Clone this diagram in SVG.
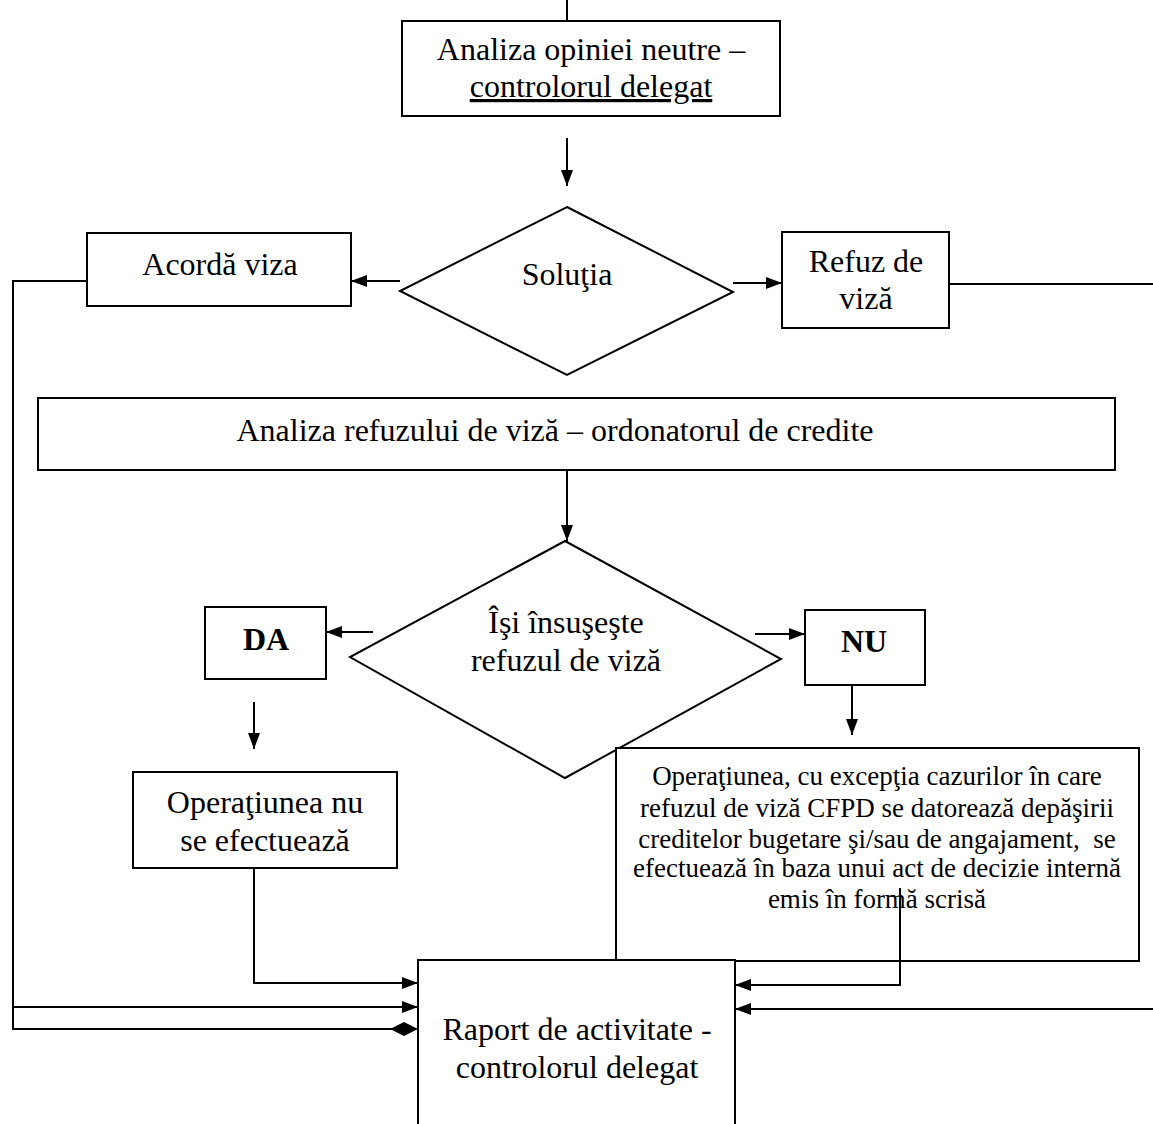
<svg xmlns="http://www.w3.org/2000/svg" width="1153" height="1124" viewBox="0 0 1153 1124">
<style>
  .box{fill:#fff;stroke:#000;stroke-width:2}
  .t{font-family:"Liberation Serif","Times New Roman",serif;font-size:32px;fill:#000;text-anchor:middle}
  .s{font-size:27px}
  .b{font-weight:bold}
  .c{fill:none;stroke:#000;stroke-width:2}
</style>
<defs>
  <marker id="ah" viewBox="0 0 16 12" refX="16" refY="6" markerWidth="16" markerHeight="12" markerUnits="userSpaceOnUse" orient="auto">
    <path d="M0,0 L16,6 L0,12 z" fill="#000"/>
  </marker>
</defs>
<rect width="1153" height="1124" fill="#fff"/>

<g id="connectors">
  <path class="c" d="M567,0 V21"/>
  <path class="c" d="M567,138 V186" marker-end="url(#ah)"/>
  <path class="c" d="M400,281 H351" marker-end="url(#ah)"/>
  <path class="c" d="M733,283 H782" marker-end="url(#ah)"/>
  <path class="c" d="M87,281 H13 V1007 H418" marker-end="url(#ah)"/>
  <path class="c" d="M949,284 H1153"/>
  <path class="c" d="M1153,1009 H735" marker-end="url(#ah)"/>
  <path class="c" d="M567,470 V541" marker-end="url(#ah)"/>
  <path class="c" d="M373,632 H326" marker-end="url(#ah)"/>
  <path class="c" d="M755,634 H805" marker-end="url(#ah)"/>
  <path class="c" d="M254,702 V749" marker-end="url(#ah)"/>
  <path class="c" d="M852,686 V735" marker-end="url(#ah)"/>
  <path class="c" d="M254,868 V983 H418" marker-end="url(#ah)"/>
  <path class="c" d="M900,888 V985 H735" marker-end="url(#ah)"/>
  <path class="c" d="M13,1006 V1029 H404"/>
  <path d="M390,1029 L404,1022 L404,1036 z M418,1029 L404,1022 L404,1036 z" fill="#000"/>
</g>

<g id="n-analiza-opiniei">
  <rect class="box" x="402" y="21" width="378" height="95"/>
  <text class="t" x="591" y="60">Analiza opiniei neutre –</text>
  <text class="t" x="591" y="97" text-decoration="underline">controlorul delegat</text>
</g>

<g id="n-solutia">
  <polygon class="box" points="567,207 733,292 567,375 400,291"/>
  <text class="t" x="567" y="285">Soluţia</text>
</g>

<g id="n-acorda">
  <rect class="box" x="87" y="233" width="264" height="73"/>
  <text class="t" x="220" y="275">Acordă viza</text>
</g>

<g id="n-refuz">
  <rect class="box" x="782" y="232" width="167" height="96"/>
  <text class="t" x="866" y="272">Refuz de</text>
  <text class="t" x="866" y="309">viză</text>
</g>

<g id="n-analiza-refuz">
  <rect class="box" x="38" y="398" width="1077" height="72"/>
  <text class="t" x="555" y="441">Analiza refuzului de viză – ordonatorul de credite</text>
</g>

<g id="n-insuseste">
  <polygon class="box" points="565,541 781,659 565,778 350,657"/>
  <text class="t" x="566" y="633">Îşi însuşeşte</text>
  <text class="t" x="566" y="671">refuzul de viză</text>
</g>

<g id="n-da">
  <rect class="box" x="205" y="607" width="121" height="72"/>
  <text class="t b" x="266" y="650">DA</text>
</g>

<g id="n-nu">
  <rect class="box" x="805" y="610" width="120" height="75"/>
  <text class="t b" x="864" y="652">NU</text>
</g>

<g id="n-nu-se-efectueaza">
  <rect class="box" x="133" y="772" width="264" height="96"/>
  <text class="t" x="265" y="813">Operaţiunea nu</text>
  <text class="t" x="265" y="851">se efectuează</text>
</g>

<g id="n-operatiunea">
  <rect class="box" x="616" y="748" width="523" height="213"/>
  <text class="t s" x="877" y="785">Operaţiunea, cu excepţia cazurilor în care</text>
  <text class="t s" x="877" y="817">refuzul de viză CFPD se datorează depăşirii</text>
  <text class="t s" x="877" y="848" xml:space="preserve">creditelor bugetare şi/sau de angajament,  se</text>
  <text class="t s" x="877" y="877">efectuează în baza unui act de decizie internă</text>
  <text class="t s" x="877" y="908">emis în formă scrisă</text>
  <path class="c" d="M900,888 V961"/>
</g>

<g id="n-raport">
  <rect class="box" x="418" y="960" width="317" height="180"/>
  <text class="t" x="577" y="1040">Raport de activitate -</text>
  <text class="t" x="577" y="1078">controlorul delegat</text>
</g>
</svg>
